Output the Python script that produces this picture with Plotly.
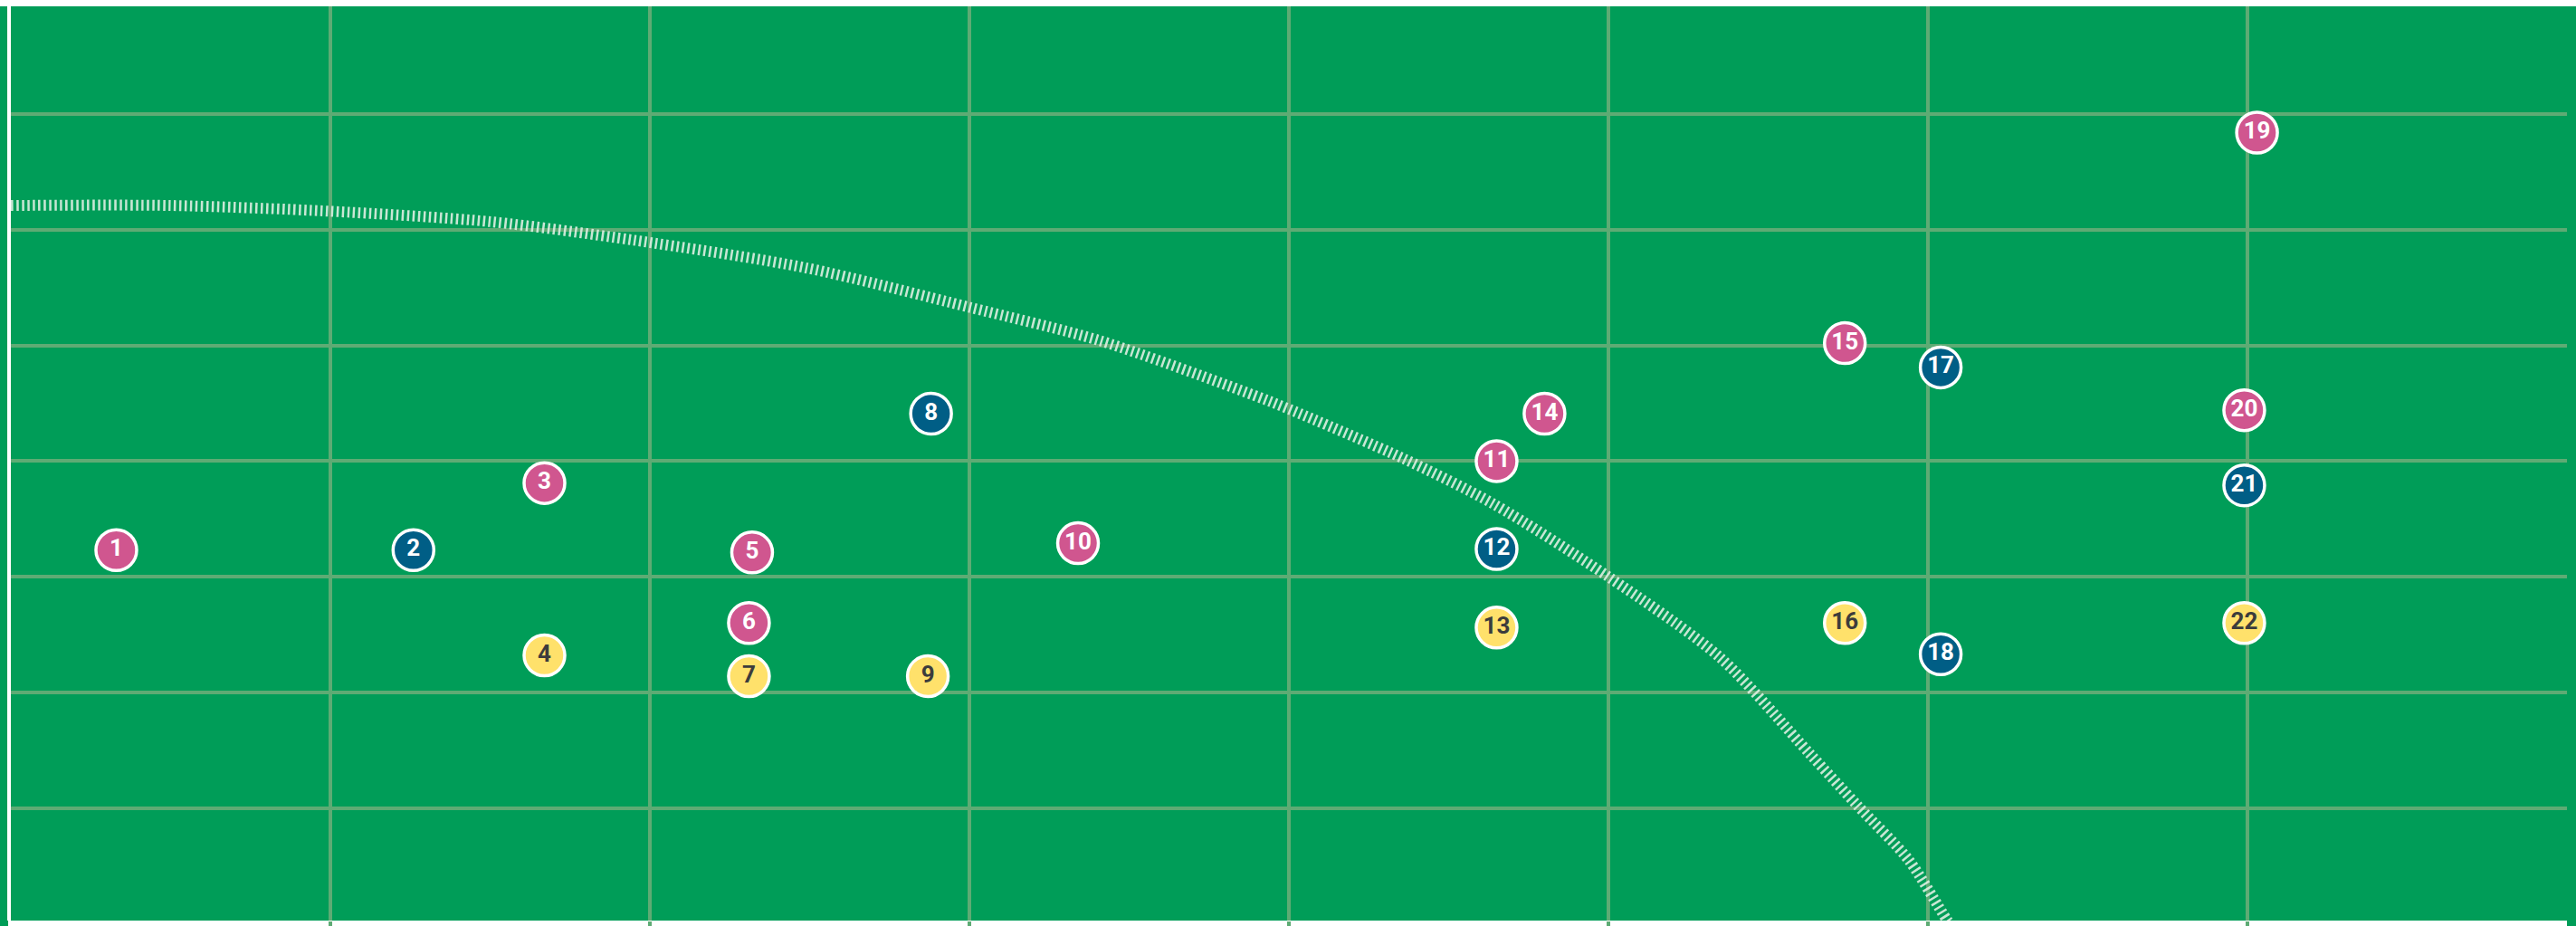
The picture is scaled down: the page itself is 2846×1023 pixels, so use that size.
import plotly.graph_objects as go

# ---- data ----
labels = ["1", "2", "3", "4", "5", "6", "7", "8", "9", "10", "11",
          "12", "13", "14", "15", "16", "17", "18", "19", "20", "21", "22"]
x_vals = [0.33, 1.26, 1.67, 1.67, 2.32, 2.31, 2.31, 2.88, 2.87, 3.34, 4.65,
          4.65, 4.65, 4.80, 5.74, 5.74, 6.04, 6.04, 7.03, 6.99, 6.99, 6.99]
y_vals = [3.23, 3.23, 3.81, 2.32, 3.21, 2.60, 2.14, 4.41, 2.14, 3.29, 4.00,
          3.24, 2.56, 4.41, 5.02, 2.60, 4.81, 2.33, 6.84, 4.44, 3.79, 2.60]
groups = ["pink", "blue", "pink", "yellow", "pink", "pink", "yellow", "blue", "yellow", "pink", "pink",
          "blue", "yellow", "pink", "pink", "yellow", "blue", "blue", "pink", "pink", "blue", "yellow"]

curve_x = [0.0, 0.5, 1.0, 1.5, 1.95, 2.49, 3.0, 3.41, 3.89, 4.0, 4.36, 4.64,
           5.0, 5.35, 5.63, 5.78, 5.94, 6.06, 6.09]
curve_y = [6.21, 6.21, 6.16, 6.07, 5.91, 5.67, 5.33, 5.04, 4.57, 4.45, 4.02, 3.63,
           3.00, 2.30, 1.47, 1.02, 0.55, 0.03, -0.08]

grid_vals = [1, 2, 3, 4, 5, 6, 7]

# ---- styles ----
GREEN = "#009D58"
GRID = "#5EAB74"
fill_colors = {"pink": "#D0568F", "blue": "#005E86", "yellow": "#FFE16B"}
text_colors = {"pink": "#FFFFFF", "blue": "#FFFFFF", "yellow": "#3C3C3C"}

fig = go.Figure()

fig.add_trace(go.Scatter(
    x=curve_x, y=curve_y, mode="lines",
    line=dict(color="rgba(222,238,226,0.9)", width=12, dash="2.5px,3.5px", shape="spline", smoothing=0.8),
    hoverinfo="skip", showlegend=False,
))

for g in ["pink", "blue", "yellow"]:
    idx = [i for i, v in enumerate(groups) if v == g]
    fig.add_trace(go.Scatter(
        x=[x_vals[i] for i in idx],
        y=[y_vals[i] for i in idx],
        text=[labels[i] for i in idx],
        mode="markers+text",
        textposition="middle center",
        marker=dict(size=45, color=fill_colors[g], line=dict(color="white", width=3.5)),
        textfont=dict(family="Liberation Sans Narrow, Roboto, sans-serif", size=26,
                      color=text_colors[g], weight=700),
        cliponaxis=False,
        showlegend=False,
    ))

W, H = 2846, 1023
ML, MR, MT, MB = 12, 10, 7, 6
pw = W - ML - MR
ph = H - MT - MB

fig.update_layout(
    width=W, height=H, autosize=False,
    margin=dict(l=ML, r=MR, t=MT, b=MB, pad=0, autoexpand=False),
    paper_bgcolor=GREEN,
    plot_bgcolor=GREEN,
    showlegend=False,
    xaxis=dict(range=[0, 8], tickvals=grid_vals, showticklabels=False,
               showgrid=True, gridcolor=GRID, gridwidth=4,
               ticks="outside", ticklen=8, tickwidth=4, tickcolor=GRID,
               zeroline=False, showline=False, fixedrange=True, automargin=False),
    yaxis=dict(range=[0.027, 7.932], tickvals=grid_vals, showticklabels=False,
               showgrid=True, gridcolor=GRID, gridwidth=4,
               zeroline=False, showline=True, linecolor="white", linewidth=4,
               ticks="", fixedrange=True, automargin=False),
    shapes=[
        # white strip along the top
        dict(type="rect", xref="paper", yref="paper", layer="below",
             x0=-0.02, x1=1.02, y0=1.0, y1=1.0 + 20 / ph,
             fillcolor="white", line=dict(width=0)),
        # white strip along the bottom
        dict(type="rect", xref="paper", yref="paper", layer="below",
             x0=-3 / pw, x1=1.0, y0=-20 / ph, y1=0.0,
             fillcolor="white", line=dict(width=0)),
    ],
)

fig.write_html(
    "out.html",
    config={"displayModeBar": False, "responsive": False},
    post_script="document.body.style.margin='0px';document.body.style.overflow='hidden';",
)
